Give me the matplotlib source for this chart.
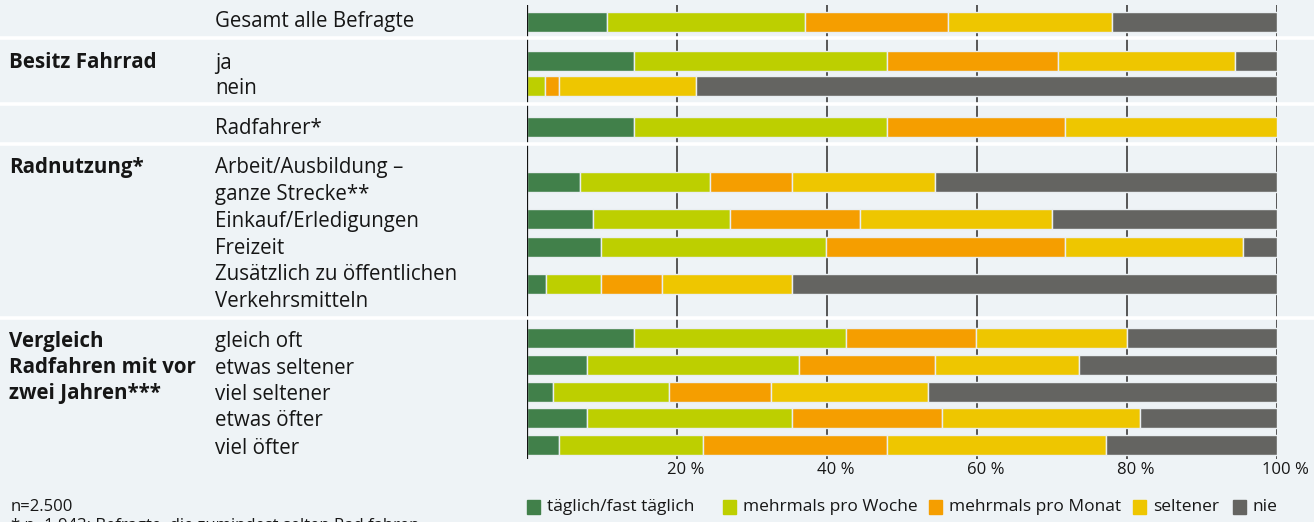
import matplotlib
matplotlib.use("Agg")
import matplotlib.pyplot as plt
from matplotlib.patches import Rectangle
from matplotlib.lines import Line2D

plt.rcParams['font.family'] = ['Open Sans', 'DejaVu Sans']

# ---------------- data ----------------
categories = ["täglich/fast täglich", "mehrmals pro Woche", "mehrmals pro Monat", "seltener", "nie"]
row_labels = ["Gesamt alle Befragte", "ja", "nein", "Radfahrer*",
              "Arbeit/Ausbildung –\nganze Strecke**", "Einkauf/Erledigungen", "Freizeit",
              "Zusätzlich zu öffentlichen\nVerkehrsmitteln",
              "gleich oft", "etwas seltener", "viel seltener", "etwas öfter", "viel öfter"]
group_labels = ["Besitz Fahrrad", "Radnutzung*", "Vergleich\nRadfahren mit vor\nzwei Jahren***"]
taeglich = [10.7, 14.3, 0.0, 14.3, 7.1, 8.8, 9.8, 2.5, 14.3, 8.0, 3.4, 8.0, 4.3]
woche    = [26.4, 33.7, 2.4, 33.7, 17.3, 18.3, 30.1, 7.3, 28.2, 28.2, 15.5, 27.3, 19.2]
monat    = [19.0, 22.8, 1.9, 23.7, 10.9, 17.3, 31.8, 8.2, 17.4, 18.2, 13.6, 20.0, 24.5]
seltener = [21.9, 23.6, 18.2, 28.3, 19.1, 25.6, 23.7, 17.3, 20.1, 19.2, 21.0, 26.4, 29.2]
nie      = [22.0, 5.6, 77.5, 0.0, 45.6, 30.0, 4.6, 64.7, 20.0, 26.4, 46.5, 18.3, 22.8]
x_ticks = [20, 40, 60, 80, 100]
footnotes = ["n=2.500", "* n=1.943: Befragte, die zumindest selten Rad fahren"]

# ---------------- layout ----------------
W, H = 1314, 522
BG = "#eef3f6"
TXT = "#161616"
colors = ["#41804a", "#bdcf00", "#f59e00", "#eec600", "#646461"]
row_y = [22, 61, 86, 127, 182, 219, 247, 284, 338, 365, 392, 418, 445]   # pixel rows
label_y = [22, 63, 89, 128, 181, 222, 249, 288, 341, 368, 394, 421, 448]
group_y = [63, 167, 367.5]
separators = [38, 104, 144, 318]
FS = 14.8

fig = plt.figure(figsize=(W / 100, H / 100), dpi=100, facecolor=BG)
ax = fig.add_axes([527 / W, 0, 750 / W, 1])
ax.set_facecolor("none")
ax.set_xlim(0, 100)
ax.set_ylim(H, 0)
for s in ax.spines.values():
    s.set_visible(False)
ax.set_xticks([])
ax.set_yticks([])

# separators over full width (figure)
for y in separators:
    fig.add_artist(Line2D([0, 1], [1 - y / H, 1 - y / H], color="white", lw=2.6, zorder=1))

# gridlines and axis
ax.vlines(x_ticks, 5, 459, color="#555555", lw=1.4, zorder=2)
ax.vlines([0], 5, 459, color="#111111", lw=1.6, zorder=4)

# bars
series = [taeglich, woche, monat, seltener, nie]
for i, y in enumerate(row_y):
    left = 0.0
    for k, vals in enumerate(series):
        v = vals[i]
        if v > 0:
            ax.barh(y, v, left=left, height=20, color=colors[k],
                    edgecolor="#e9eef1", linewidth=1.0, zorder=3)
        left += v

# tick labels
for t in x_ticks:
    ax.annotate(f"{t} %", xy=(t, 470), xytext=(6, 0), textcoords="offset points",
                ha="center", va="center", fontsize=12, color=TXT)

# row labels
for lab, y in zip(row_labels, label_y):
    fig.text(215 / W, 1 - y / H, lab, ha="left", va="center", fontsize=FS,
             color=TXT, linespacing=1.38)
for lab, y in zip(group_labels, group_y):
    fig.text(9 / W, 1 - y / H, lab, ha="left", va="center", fontsize=FS,
             fontweight="bold", color=TXT, linespacing=1.32)

# legend
leg_x = [527, 723, 929, 1133, 1233]
for cat, c, x in zip(categories, colors, leg_x):
    fig.add_artist(Rectangle((x / W, 1 - 514 / H), 13 / W, 14 / H, color=c,
                             transform=fig.transFigure))
    fig.text((x + 20) / W, 1 - 507 / H, cat, ha="left", va="center",
             fontsize=12.5, color=TXT)

# footnotes
fig.text(11 / W, 1 - 507 / H, footnotes[0], ha="left", va="center", fontsize=12, color=TXT)
fig.text(11 / W, 1 - 518 / H, footnotes[1], ha="left", va="top", fontsize=12, color=TXT)

fig.savefig("out.png", dpi=100, facecolor=BG)
